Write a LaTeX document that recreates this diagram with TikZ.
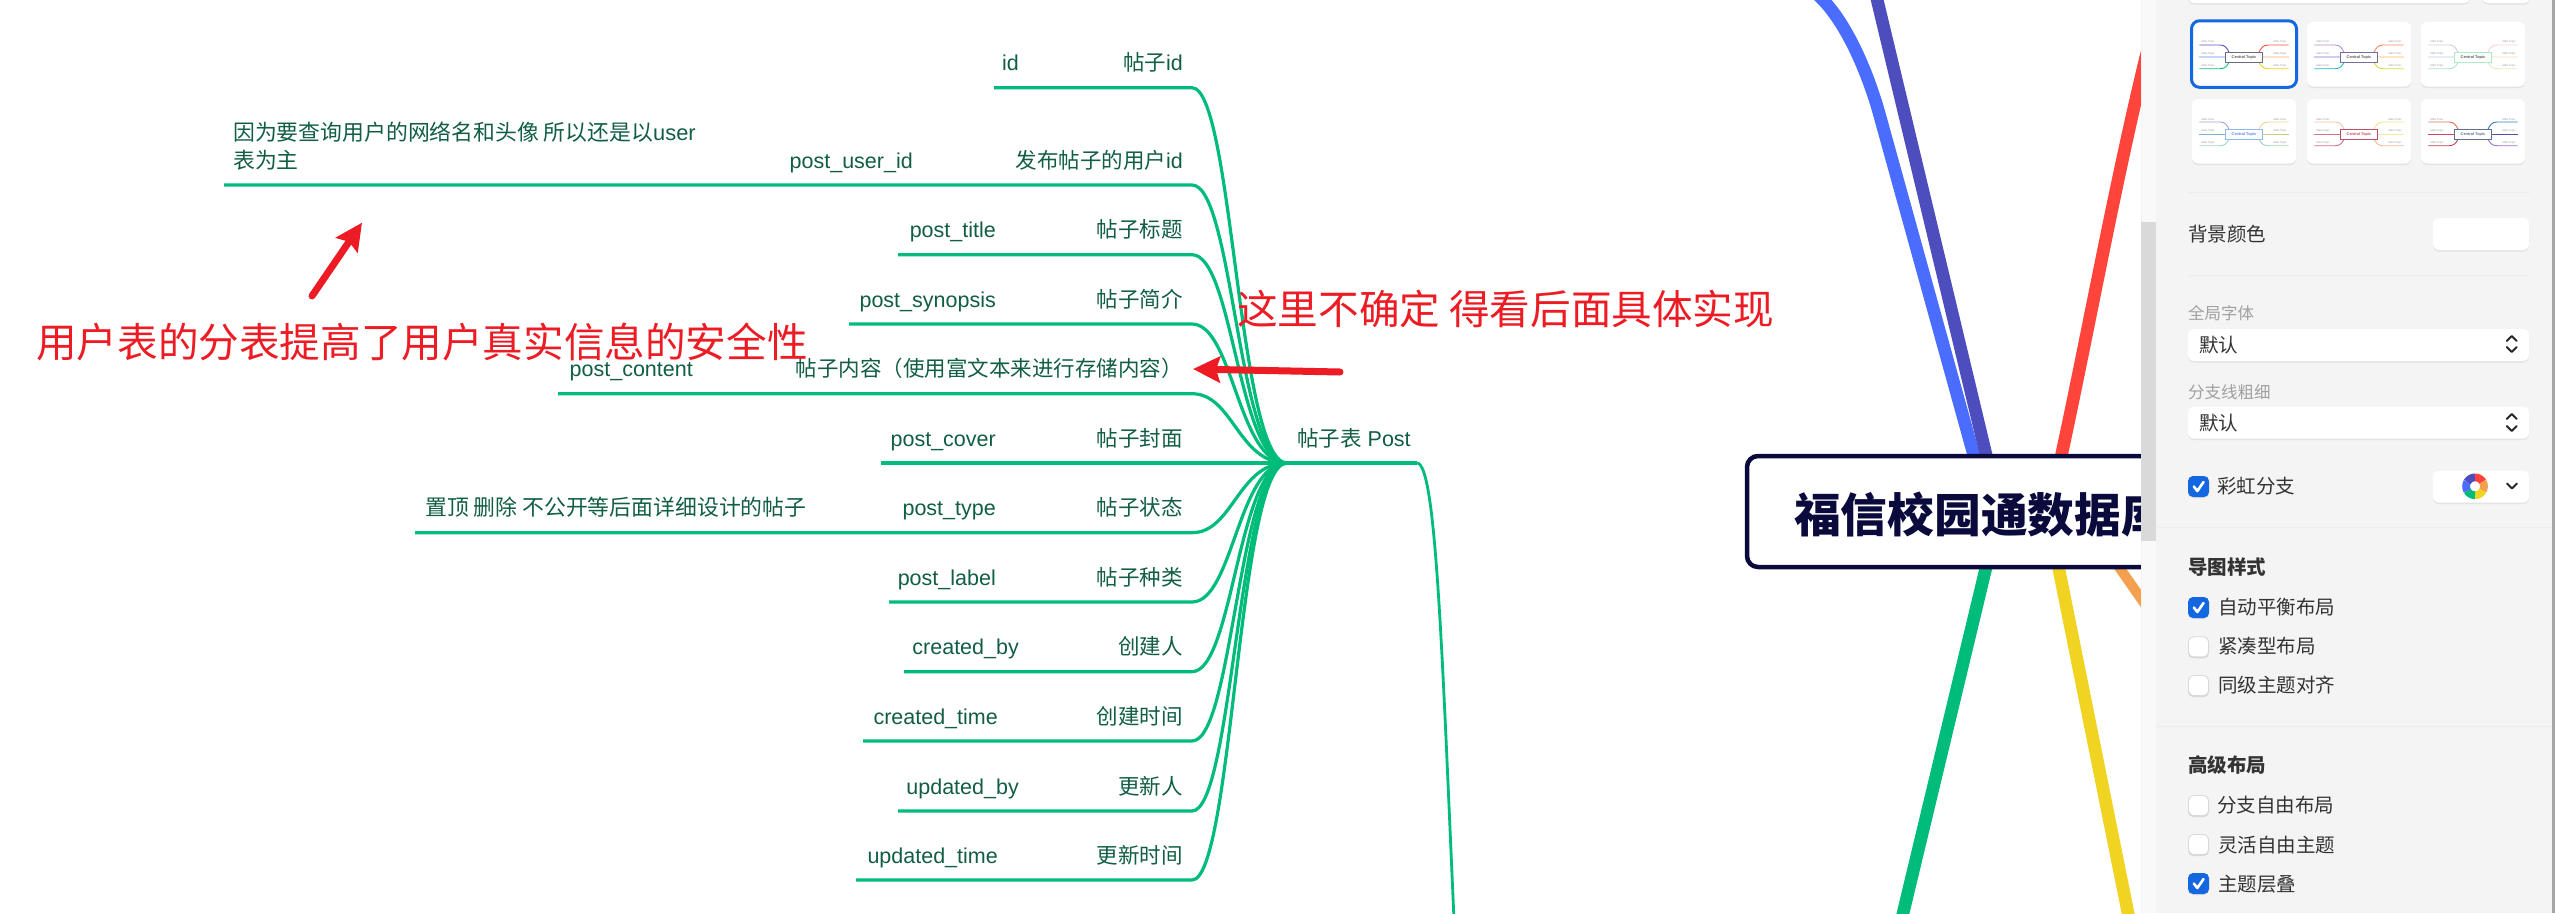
\documentclass[tikz,border=0pt]{standalone}
\usepackage{fontspec}
\usetikzlibrary{arrows.meta}
\setmainfont{Liberation Sans}
\newfontfamily\latn{Liberation Sans}
\newfontfamily\cjk{Noto Sans CJK SC}
\newfontfamily\cjkheavy{Noto Sans CJK SC Black}
\definecolor{leafgreen}{HTML}{00BC7B}
\definecolor{leaftext}{HTML}{115E45}
\definecolor{annored}{HTML}{ED1C24}
\definecolor{brblue}{HTML}{4A6CFF}
\definecolor{brindigo}{HTML}{4D4DBE}
\definecolor{brred}{HTML}{FF443C}
\definecolor{bryellow}{HTML}{F1D321}
\definecolor{brorange}{HTML}{F5A04F}
\definecolor{navy}{HTML}{0A0A3C}
\definecolor{panelbg}{HTML}{F4F4F4}
\definecolor{uiblue}{HTML}{1367E0}
\definecolor{uitext}{HTML}{333333}
\definecolor{uigray}{HTML}{A0A0A0}
\tikzset{
  leafline/.style={draw=leafgreen,line width=3.2pt},
  leaftxt/.style={anchor=base east,inner sep=0pt,text=leaftext,font=\latn\fontsize{21.5}{26}\selectfont},
  notetxt/.style={anchor=base west,inner sep=0pt,text=leaftext,font=\latn\fontsize{21.85}{26}\selectfont},
  branch/.style={line width=12.6pt},
  redtxt/.style={anchor=base west,inner sep=0pt,text=annored,font=\cjk\fontsize{40.6}{46}\selectfont},
  redarrow/.style={draw=annored,fill=annored,line width=7pt,line cap=round,-{Stealth[length=27pt,width=26pt,inset=4pt]}},
  uilabel/.style={anchor=base west,inner sep=0pt,text=uitext,font=\cjk\fontsize{19.5}{24}\selectfont},
  uisub/.style={anchor=base west,inner sep=0pt,text=uigray,font=\cjk\fontsize{16.5}{20}\selectfont},
  uihead/.style={anchor=base west,inner sep=0pt,text=uitext,font=\cjk\bfseries\fontsize{19.5}{24}\selectfont},
  chev/.style={draw=black!85,line width=1.9pt,line cap=round,line join=round},
  thumbtxt/.style={inner sep=0pt,text=black!40,font=\latn\fontsize{2.7}{3}\selectfont},
}
\newcommand{\mmBox}[4]{%
  \fill[black!11,rounded corners=6pt] ({#1},{#2+1.5}) rectangle ({#3},{#4+1.5});
  \fill[white,rounded corners=6pt] ({#1},{#2}) rectangle ({#3},{#4});}
\newcommand{\mmCheck}[2]{%
  \ifnum#2=1
    \fill[black!12,rounded corners=5pt] (2188,{#1+1}) rectangle (2209,{#1+22});
    \fill[uiblue,rounded corners=5pt] (2188,#1) rectangle (2209,{#1+21});
    \draw[white,line width=2.6pt,line cap=round,line join=round] (2193.8,{#1+10.5}) -- (2197.3,{#1+15}) -- (2203.5,{#1+6});
  \else
    \fill[black!15,rounded corners=5pt] (2188,{#1+1}) rectangle (2209,{#1+22});
    \draw[black!15,fill=white,line width=.8pt,rounded corners=5pt] (2188.5,{#1+.5}) rectangle (2208.5,{#1+20.5});
  \fi}
\def\mmMid{2pt}
\newcommand{\mmThumb}[9]{%
  \begin{scope}[shift={(#1)}]
    \fill[black!11,rounded corners=6pt] (0,1.5) rectangle (104,66);
    \fill[white,rounded corners=6pt] (0,0) rectangle (104,64.5);
    \draw[#4,line width=.9pt] (7.3,23) -- (28,23) .. controls (33,23) and (35,26) .. (37,30.3);
    \draw[#5,line width=\mmMid] (7.3,35) -- (33.7,35);
    \draw[#6,line width=.9pt] (7.3,46.7) -- (28,46.7) .. controls (33,46.7) and (35,44) .. (37,40.3);
    \draw[#7,line width=.9pt] (96.7,23) -- (76,23) .. controls (71,23) and (69,26) .. (67,30.3);
    \draw[#8,line width=\mmMid] (96.7,35) -- (70.3,35);
    \draw[#9,line width=.9pt] (96.7,46.7) -- (76,46.7) .. controls (71,46.7) and (69,44) .. (67,40.3);
    \draw[#2,fill=white,line width=.9pt] (33.7,30.3) rectangle (70.3,40.3);
    \node[inner sep=0pt,text=#3,font=\latn\bfseries\fontsize{3.9}{4}\selectfont] at (52,35.3) {Central Topic};
    \node[thumbtxt] at (16,20.3) {Main Topic};
    \node[thumbtxt] at (16,32) {Main Topic};
    \node[thumbtxt] at (16,44) {Main Topic};
    \node[thumbtxt] at (88,20.3) {Main Topic};
    \node[thumbtxt] at (88,32) {Main Topic};
    \node[thumbtxt] at (88,44) {Main Topic};
  \end{scope}}
\begin{document}
\begin{tikzpicture}[x=1pt,y=-1pt]
\useasboundingbox (0,0) rectangle (2555,913);
\fill[white] (0,0) rectangle (2555,913);

% thick branches
\coordinate (bluea) at (1812,-10);
\coordinate (blueb) at (1880,116.5);
\coordinate (bluec) at (2000,550);
\coordinate (indigoa) at (1870,-30);
\coordinate (indigoc) at (2000,513);
\coordinate (reda) at (2150,40);
\coordinate (redc) at (2056,480);
\coordinate (greena) at (1995,530);
\coordinate (greenc) at (1899,930);
\coordinate (yellowa) at (2051,530);
\coordinate (yellowc) at (2131.4,930);
\coordinate (orangea) at (2100,540);
\coordinate (orangec) at (2170,640);
\draw[branch,brblue] (bluea) .. controls (1845,15) and (1869,76) .. (blueb) -- (bluec);
\draw[branch,brindigo] (indigoa) -- (indigoc);
\draw[branch,brred] (reda) .. controls (2115,180) and (2085,350) .. (redc);
\draw[branch,leafgreen] (greena) -- (greenc);
\draw[branch,bryellow] (yellowa) -- (yellowc);
\draw[line width=10pt,brorange] (orangea) -- (orangec);

% central topic
\node[draw=navy,fill=white,line width=4.5pt,outer sep=0pt,rounded corners=11pt,minimum width=700pt,minimum height=111pt,inner sep=0pt,anchor=west] (ctr) at (1747,511.5) {};
\node[anchor=base west,inner sep=0pt,text=navy,font=\cjkheavy\fontsize{46.7}{52}\selectfont] (ctrtxt) at (1794,532.5) {福信校园通数据库};

% leaves
\coordinate (hub) at (1287,463);
\coordinate (stemA) at (1417,463);
\coordinate (stemB) at (1454,920);
\node[anchor=base west,inner sep=0pt,text=leaftext,font=\latn\fontsize{21.5}{26}\selectfont] (hubtxt) at (1297,446) {{\cjk 帖子表} Post};
\draw[leafline] (hub) -- (stemA);
\draw[draw=leafgreen,line width=2.8pt] (stemA) .. controls (1436,463) and (1442,650) .. (stemB);

\foreach \rn/\rx/\ry/\rlat/\rlatr/\rzh in {
  1/994/87.7/id/1019/帖子{\latn id},
  2/224/185/post\_user\_id/913/发布帖子的用户{\latn id},
  3/898/254.7/post\_title/996/帖子标题,
  4/849/324/post\_synopsis/996/帖子简介,
  5/558/393.7/post\_content/693/帖子内容（使用富文本来进行存储内容）,
  7/415/532.7/post\_type/996/帖子状态,
  8/889/602/post\_label/996/帖子种类,
  9/904/671.7/created\_by/1019/创建人,
  10/863/741/created\_time/998/创建时间,
  11/898/811/updated\_by/1019/更新人,
  12/856/880/updated\_time/998/更新时间}{
  \coordinate (s\rn) at (\rx,\ry);
  \coordinate (k\rn) at (1192,\ry);
  \draw[leafline] (s\rn) -- (k\rn) .. controls (1233,\ry) and (1238,463) .. (hub);
  \node[leaftxt] (lat\rn) at (\rlatr,\ry-17) {\rlat};
  \node[leaftxt] (zh\rn) at (1183,\ry-17) {\cjk\rzh};
}
\coordinate (s6) at (881,463);
\draw[leafline] (s6) -- (hub);
\node[leaftxt] (lat6) at (996,446) {post\_cover};
\node[leaftxt] (zh6) at (1183,446) {\cjk 帖子封面};

\node[notetxt] (note1) at (233,140) {{\cjk 因为要查询用户的网络名和头像 所以还是以}user};
\node[notetxt] (note2) at (233,168) {\cjk 表为主};
\node[notetxt] (note3) at (425,515.7) {\cjk 置顶 删除 不公开等后面详细设计的帖子};

% red annotations
\coordinate (ra1) at (312,296);
\coordinate (ra2) at (362,222.7);
\coordinate (rb1) at (1340,372);
\coordinate (rb2) at (1193,369);
\draw[redarrow] (ra1) -- (ra2);
\draw[redarrow] (rb1) -- (rb2);
\node[redtxt] (red1) at (36,357) {用户表的分表提高了用户真实信息的安全性};
\node[redtxt] (red2) at (1237,324) {这里不确定 得看后面具体实现};

% side panel
\fill[black!2.5] (2141,0) rectangle (2156,913);
\fill[black!5] (2141,0) rectangle (2141.8,913);
\fill[black!15] (2141,221.5) rectangle (2156,540.7);
\fill[panelbg] (2156,0) rectangle (2552,913);
\fill[black!35] (2552,0) rectangle (2555,913);

\mmBox{2188}{-12}{2470}{3}
\mmBox{2482}{-12}{2530}{3}

\definecolor{t1}{HTML}{5A55C0}\definecolor{t2}{HTML}{C8D4FF}\definecolor{t3}{HTML}{10C080}\definecolor{t4}{HTML}{FF5040}\definecolor{t5}{HTML}{FFE0C8}\definecolor{t6}{HTML}{F0D020}
\definecolor{u1}{HTML}{B78FC8}\definecolor{u2}{HTML}{D0CCEE}\definecolor{u3}{HTML}{20B8D0}\definecolor{u4}{HTML}{F58A60}\definecolor{u5}{HTML}{FFE5C0}\definecolor{u6}{HTML}{D8D840}
\definecolor{v1}{HTML}{D8C8E0}\definecolor{v2}{HTML}{E8ECF4}\definecolor{v3}{HTML}{B0E0D8}\definecolor{v4}{HTML}{F8D0D8}\definecolor{v5}{HTML}{FFF0E8}\definecolor{v6}{HTML}{E8E8C0}
\definecolor{w1}{HTML}{A8A0D0}\definecolor{w2}{HTML}{80B0C8}\definecolor{w3}{HTML}{A0D8C8}\definecolor{w4}{HTML}{E8D890}\definecolor{w5}{HTML}{C0D088}\definecolor{w6}{HTML}{A0D8B0}
\definecolor{x1}{HTML}{F8C0A8}\definecolor{x2}{HTML}{D87088}\definecolor{x3}{HTML}{D87088}\definecolor{x4}{HTML}{F8E090}\definecolor{x5}{HTML}{F8E8A0}\definecolor{x6}{HTML}{F8B890}
\definecolor{y1}{HTML}{E07050}\definecolor{y2}{HTML}{D84060}\definecolor{y3}{HTML}{C04060}\definecolor{y4}{HTML}{3080C0}\definecolor{y5}{HTML}{5050A0}\definecolor{y6}{HTML}{A070C0}
\definecolor{tb1}{HTML}{6A6A88}\definecolor{tb2}{HTML}{7070A0}\definecolor{tb3}{HTML}{A8ECC0}\definecolor{tb4}{HTML}{90B8F0}\definecolor{tb5}{HTML}{C05060}\definecolor{tb6}{HTML}{607090}
\mmThumb{2192,22}{tb1}{black!65}{t1}{t2}{t3}{t4}{t5}{t6}
\draw[uiblue,line width=3pt,rounded corners=8pt] (2191.5,20.8) rectangle (2296.5,87.3);
\mmThumb{2307,22}{tb2}{black!65}{u1}{u2}{u3}{u4}{u5}{u6}
\mmThumb{2421,22}{tb3}{black!65}{v1}{v2}{v3}{v4}{v5}{v6}
\def\mmMid{.9pt}
\mmThumb{2192,99}{tb4}{tb4!70!blue}{w1}{w2}{w3}{w4}{w5}{w6}
\mmThumb{2307,99}{tb5}{tb5}{x1}{x2}{x3}{x4}{x5}{x6}
\mmThumb{2421,99}{tb6}{tb6}{y1}{y2}{y3}{y4}{y5}{y6}

\fill[black!7] (2188,191.8) rectangle (2530,192.8);
\node[uilabel] (bg) at (2188,241.4) {背景颜色};
\mmBox{2433}{218}{2529}{250}
\fill[black!7] (2188,275) rectangle (2530,276);

\node[uisub] (ft) at (2188,319) {全局字体};
\mmBox{2188}{329}{2529}{361}
\node[uilabel] (fv) at (2199,352.4) {默认};
\draw[chev] (2506.7,341) -- (2511.7,336) -- (2516.7,341);
\draw[chev] (2506.7,347) -- (2511.7,352) -- (2516.7,347);

\node[uisub] (lw) at (2188,398) {分支线粗细};
\mmBox{2188}{406.7}{2529}{438.7}
\node[uilabel] (lv) at (2199,430.7) {默认};
\draw[chev] (2506.7,419) -- (2511.7,414) -- (2516.7,419);
\draw[chev] (2506.7,426) -- (2511.7,431) -- (2516.7,426);

\mmCheck{476}{1}
\node[uilabel] (rb) at (2217,493) {彩虹分支};
\mmBox{2433}{470.7}{2529}{502.7}
\foreach \ca/\cb/\cc in {-90/-30/brred,-30/30/brorange,30/90/bryellow,90/150/leafgreen,150/210/brblue,210/270/brindigo}{
  \draw[\cc,line width=7.8pt] plot[domain=\ca:\cb,samples=9] ({2475+8.9*cos(\x)},{486.3+8.9*sin(\x)});
}
\draw[chev] (2507,483.5) -- (2512,488.5) -- (2517,483.5);
\fill[black!7] (2157,527) rectangle (2552,528);

\node[uihead] (h1) at (2188,574.4) {导图样式};
\mmCheck{597}{1}
\node[uilabel] (c1) at (2218,614.1) {自动平衡布局};
\mmCheck{636.3}{0}
\node[uilabel] (c2) at (2218,653.4) {紧凑型布局};
\mmCheck{675}{0}
\node[uilabel] (c3) at (2218,692.4) {同级主题对齐};
\fill[black!7] (2157,726) rectangle (2552,727);

\node[uihead] (h2) at (2188,772.4) {高级布局};
\mmCheck{795}{0}
\node[uilabel] (c4) at (2217,812.4) {分支自由布局};
\mmCheck{834}{0}
\node[uilabel] (c5) at (2218,852.4) {灵活自由主题};
\mmCheck{873}{1}
\node[uilabel] (c6) at (2218,891.4) {主题层叠};
\end{tikzpicture}
\end{document}
